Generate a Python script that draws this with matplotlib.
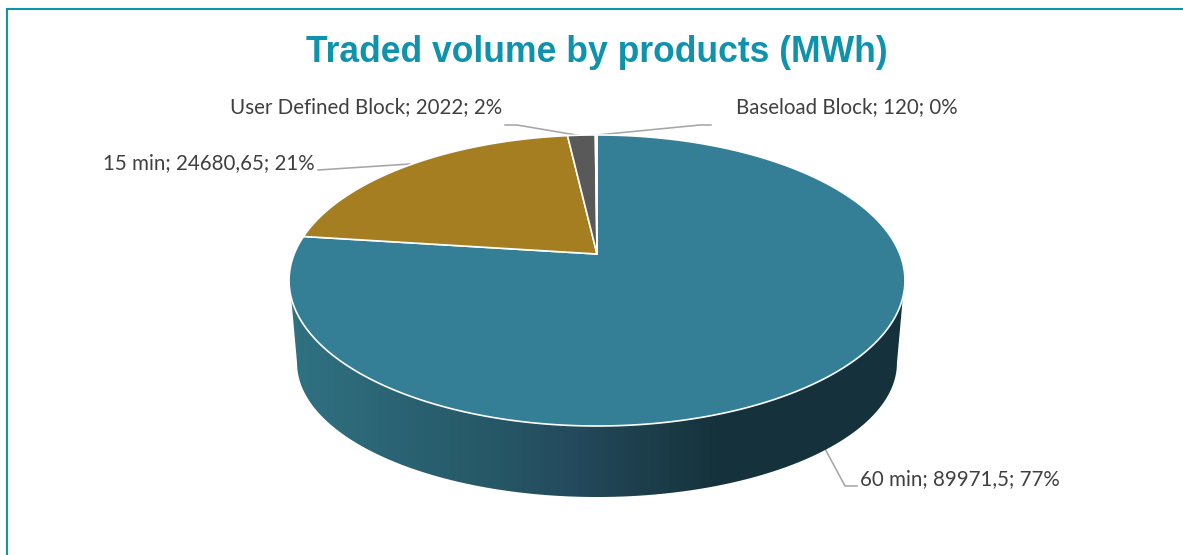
# -*- coding: utf-8 -*-
# plot.py - 3D style pie of traded volume, drawn by hand in pixel coordinates
import numpy as np
import matplotlib; matplotlib.use("Agg"); import matplotlib.pyplot as plt
from matplotlib.colors import LinearSegmentedColormap
from matplotlib.patches import Polygon

title = "Traded volume by products (MWh)"
categories = ["60 min", "15 min", "User Defined Block", "Baseload Block"]
volumes = [89971.5, 24680.65, 2022, 120]
colors = ["#347F95", "#A47E20", "#595959", "#347F95"]

W, H = 1183, 555
CX, CY = 597, 254          # apex of the pie on the top face
K, A, B = 0.182, 302.8, 140.7  # perspective of the top face
TEAL = "#0F93AC"
WALL_STOPS = [(0.0, "#307282"), (0.18, "#2a6373"), (0.34, "#265766"), (0.47, "#24495c"),
              (0.57, "#1d3f4c"), (0.70, "#15323c"), (1.0, "#15323c")]


def top_xy(t):
    # t = math angle in radians
    d = 1 + K * np.sin(t)
    return CX + A * np.cos(t) / d, CY - B * np.sin(t) / d


def bottom_xy(t):
    x, y = top_xy(t)
    return CX + (x - CX) * 0.974, 363 + (y - 280.5) * 0.921


def label_text(cat, val, total):
    return f"{cat}; {str(val).replace('.', ',')}; {round(100 * val / total)}%"


fig = plt.figure(figsize=(W / 100, H / 100), dpi=100)
ax = fig.add_axes([0, 0, 1, 1])
ax.set_xlim(0, W)
ax.set_ylim(H, 0)
ax.axis("off")

# frame, only top and left are visible
ax.plot([7, W], [9, 9], color=TEAL, lw=1.5, solid_capstyle="butt")
ax.plot([7, 7], [8, H], color=TEAL, lw=1.5, solid_capstyle="butt")

# side wall with horizontal gradient
ts = np.radians(np.linspace(190.5, 349.5, 200))
bx, by = bottom_xy(ts)
lx, ly = top_xy(np.radians(197))
rx, ry = top_xy(np.radians(343))
wall = Polygon(np.column_stack([np.r_[lx, bx, rx], np.r_[ly, by, ry]]), closed=True,
               fc="none", ec="none", transform=ax.transData)
ax.add_patch(wall)
cmap = LinearSegmentedColormap.from_list("wall", WALL_STOPS)
im = ax.imshow(np.linspace(0, 1, 256)[None, :], cmap=cmap, aspect="auto",
               extent=[289, 905, 500, 270], zorder=2)
im.set_clip_path(wall)
ax.set_xlim(0, W)
ax.set_ylim(H, 0)

# top face, clockwise from 12 o'clock
total = sum(volumes)
start = 90.0
for val, col in zip(volumes, colors):
    sweep = 360 * val / total
    t = np.radians(np.linspace(start, start - sweep, max(int(sweep * 3), 3)))
    x, y = top_xy(t)
    ax.add_patch(Polygon(np.column_stack([np.r_[CX, x], np.r_[CY, y]]), closed=True,
                         fc=col, ec="white", lw=1.2, joinstyle="round", zorder=3))
    start -= sweep

# leader lines
leaders = [([823, 845, 857], [445, 486, 486]),
           ([410, 318], [164, 170]),
           ([505, 517, 582], [125, 125, 136]),
           ([597, 700, 711], [135, 125, 125])]
for lxs, lys in leaders:
    ax.plot(lxs, lys, color="#A6A6A6", lw=1.15, zorder=1.5)

# labels
label_pos = [(860, 479, "left"), (315, 163, "right"), (502, 107, "right"), (736, 107, "left")]
for cat, val, (px, py, ha) in zip(categories, volumes, label_pos):
    ax.text(px, py, label_text(cat, val, total), ha=ha, va="center", color="#404040",
            family="Lato", fontsize=14.8)

ax.text(597, 62, title, ha="center", va="baseline", color=TEAL, family="Liberation Sans",
        fontweight="bold", fontsize=25.6)

fig.savefig("out.png", dpi=100)
plt.close()
